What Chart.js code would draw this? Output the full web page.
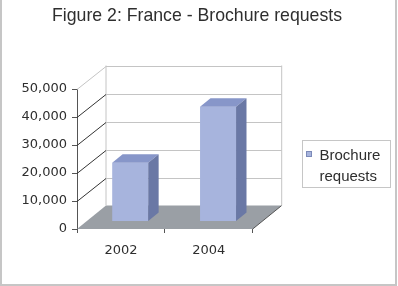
<!DOCTYPE html>
<html>
<head>
<meta charset="utf-8">
<script src="https://cdn.jsdelivr.net/npm/chart.js@4.4.1/dist/chart.umd.min.js"></script>
<style>
    html, body { margin: 0; padding: 0; background: #fff; }
    #wrap { width: 398px; height: 286px; }
</style>
</head>
<body>
<div id="wrap"><canvas id="brochureChart"></canvas></div>
<script>
// Chart data
const chartTitle = 'Figure 2: France - Brochure requests';
const seriesName = ['Brochure', 'requests'];
const years = ['2002', '2004'];
const brochureRequests = [21000, 41000];
const yTickValues = [0, 10000, 20000, 30000, 40000, 50000];

// 3D look: how far the back wall sits behind the front plane
const DEPTH_X = 29;
const DEPTH_Y = -23.5;
// bar front / back as fraction of the depth
const BAR_FRONT = 0.32;
const BAR_BACK = 0.68;

const colors = {
    barFront: '#a7b4dd',
    barTop: '#8796c9',
    barSide: '#6a78a5',
    floor: '#9a9fa5',
    grid: '#c4c4c4',
    wall: '#333333',
    axis: '#555555',
    text: '#2e2e2e',
    frame: '#c6c6c6'
};

function line(ctx, x1, y1, x2, y2, color) {
    ctx.strokeStyle = color;
    ctx.lineWidth = 1;
    ctx.beginPath();
    ctx.moveTo(x1, y1);
    ctx.lineTo(x2, y2);
    ctx.stroke();
}

function poly(ctx, pts, color) {
    ctx.fillStyle = color;
    ctx.beginPath();
    ctx.moveTo(pts[0][0], pts[0][1]);
    pts.slice(1).forEach(p => ctx.lineTo(p[0], p[1]));
    ctx.closePath();
    ctx.fill();
}

const threeD = {
    id: 'threeD',
    beforeDatasetsDraw(chart) {
        const { ctx, chartArea: a, scales: { y } } = chart;
        ctx.save();
        // floor
        poly(ctx, [
            [a.left, a.bottom], [a.right, a.bottom],
            [a.right + DEPTH_X, a.bottom + DEPTH_Y], [a.left + DEPTH_X, a.bottom + DEPTH_Y]
        ], colors.floor);
        line(ctx, a.right, a.bottom, a.right + DEPTH_X, a.bottom + DEPTH_Y, colors.axis);

        // back wall edges
        line(ctx, a.left + DEPTH_X, a.top + DEPTH_Y, a.left + DEPTH_X, a.bottom + DEPTH_Y, colors.grid);
        line(ctx, a.right + DEPTH_X, a.top + DEPTH_Y, a.right + DEPTH_X, a.bottom + DEPTH_Y, colors.grid);

        // grid lines on back wall + left wall
        const maxVal = yTickValues[yTickValues.length - 1];
        yTickValues.forEach(v => {
            if (v === 0) return;
            const py = Math.round(y.getPixelForValue(v)) + 0.5;
            const by = Math.round(py + DEPTH_Y) + 0.5;
            line(ctx, a.left + DEPTH_X, by, a.right + DEPTH_X, by, colors.grid);
            line(ctx, a.left, py, a.left + DEPTH_X, by, v === maxVal ? colors.grid : colors.wall);
        });
        ctx.restore();
    },
    beforeDatasetDraw(chart) {
        chart.ctx.save();
        chart.ctx.translate(BAR_FRONT * DEPTH_X, BAR_FRONT * DEPTH_Y);
    },
    afterDatasetDraw(chart, args) {
        const ctx = chart.ctx;
        ctx.restore();
        const fx = BAR_FRONT * DEPTH_X, fy = BAR_FRONT * DEPTH_Y;
        const bx = BAR_BACK * DEPTH_X, by = BAR_BACK * DEPTH_Y;
        ctx.save();
        args.meta.data.forEach(bar => {
            const p = bar.getProps(['x', 'y', 'base', 'width'], true);
            const l = p.x - p.width / 2, r = p.x + p.width / 2;
            // top face
            poly(ctx, [
                [l + fx, p.y + fy], [r + fx, p.y + fy],
                [r + bx, p.y + by], [l + bx, p.y + by]
            ], colors.barTop);
            // side face
            poly(ctx, [
                [r + fx, p.y + fy], [r + bx, p.y + by],
                [r + bx, p.base + by], [r + fx, p.base + fy]
            ], colors.barSide);
        });
        ctx.restore();
    },
    afterDraw(chart) {
        const { ctx } = chart;
        ctx.save();
        // title
        ctx.fillStyle = colors.text;
        ctx.font = '17.7px "Liberation Sans", sans-serif';
        ctx.textAlign = 'center';
        ctx.textBaseline = 'alphabetic';
        ctx.fillText(chartTitle, 197, 21);

        // legend
        ctx.strokeStyle = colors.frame;
        ctx.lineWidth = 1;
        ctx.strokeRect(302.5, 140.5, 88, 47);
        ctx.fillStyle = colors.barFront;
        ctx.fillRect(306, 151, 6, 6);
        ctx.strokeStyle = '#7c8ab8';
        ctx.strokeRect(306.5, 151.5, 5, 5);
        ctx.fillStyle = colors.text;
        ctx.font = '15px "Liberation Sans", sans-serif';
        ctx.textAlign = 'left';
        ctx.fillText(seriesName[0], 319.5, 159.5);
        ctx.fillText(seriesName[1], 319.5, 180.5);

        // outer frame
        ctx.fillStyle = colors.frame;
        ctx.fillRect(0, 0, 2, 286);
        ctx.fillRect(395, 0, 2, 286);
        ctx.fillRect(0, 284, 397, 2);
        ctx.restore();
    }
};

new Chart(document.getElementById('brochureChart'), {
    type: 'bar',
    data: {
        labels: years,
        datasets: [{
            label: seriesName.join(' '),
            data: brochureRequests,
            backgroundColor: colors.barFront,
            borderWidth: 0,
            categoryPercentage: 1,
            barPercentage: 0.41
        }]
    },
    options: {
        responsive: true,
        maintainAspectRatio: false,
        animation: false,
        locale: 'en-US',
        layout: {
            padding: { left: 10, right: 145.3, top: 89, bottom: 27 }
        },
        plugins: {
            legend: { display: false },
            title: { display: false },
            tooltip: { enabled: false }
        },
        scales: {
            x: {
                grid: { drawOnChartArea: false, offset: true, tickLength: 4, color: colors.axis },
                border: { display: false },
                ticks: { color: colors.text, font: { family: 'DejaVu Sans', size: 13 }, padding: 10 },
                afterFit: s => { s.height = 30; }
            },
            y: {
                min: 0,
                max: 50000,
                afterBuildTicks: s => { s.ticks = yTickValues.map(v => ({ value: v })); },
                grid: { drawOnChartArea: false, tickLength: 5, color: colors.axis },
                border: { display: true, color: colors.axis },
                ticks: { color: colors.text, font: { family: 'DejaVu Sans', size: 13 }, padding: 5 },
                afterFit: s => { s.width = 67; }
            }
        }
    },
    plugins: [threeD]
});
</script>
</body>
</html>
